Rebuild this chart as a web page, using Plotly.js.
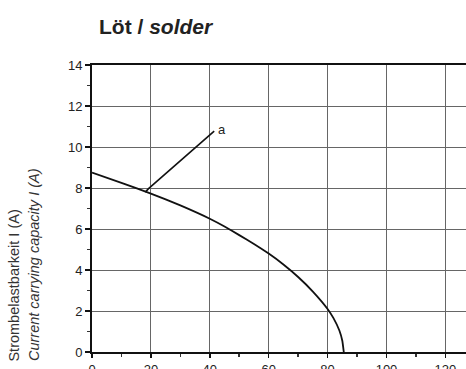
<!DOCTYPE html>
<html>
<head>
<meta charset="utf-8">
<script src="https://cdn.plot.ly/plotly-3.0.1.min.js"></script>
<style>
html,body{margin:0;padding:0;background:#fff;overflow:hidden;}
#chart{width:466px;height:369px;}
</style>
</head>
<body>
<div id="chart"></div>
<script>
// Curve: current carrying capacity vs temperature (solder)
const curveX = [0, 10, 20, 30, 40, 45, 50, 55, 60, 65, 70, 75, 80, 82, 84, 85, 85.5];
const curveY = [8.75, 8.25, 7.73, 7.15, 6.5, 6.12, 5.7, 5.27, 4.8, 4.27, 3.66, 2.95, 2.1, 1.65, 1.05, 0.55, 0];
// Leader line for label "a"
const leaderX = [18.1, 19.2, 41.5];
const leaderY = [7.8, 7.97, 10.77];
const labelA = {text: "a", x: 44.1, y: 10.86};
const xTicks = [0, 20, 40, 60, 80, 100, 120];
const yTicks = [0, 2, 4, 6, 8, 10, 12, 14];
const titleText = "<b>Löt / <i>solder</i></b>";
const yTitle1 = "Strombelastbarkeit I (A)";
const yTitle2 = "<i>Current carrying capacity I (A)</i>";

const FONT = "'Liberation Sans', Arial, sans-serif";

const traces = [
  {x: curveX, y: curveY, type: 'scatter', mode: 'lines', line: {color: '#111', width: 1.8, shape: 'spline', smoothing: 0.4}, hoverinfo: 'skip'},
  {x: leaderX, y: leaderY, type: 'scatter', mode: 'lines', line: {color: '#111', width: 1.6}, hoverinfo: 'skip'}
];

const layout = {
  width: 466, height: 369,
  margin: {l: 92, r: 0, t: 65, b: 17},
  paper_bgcolor: '#fff', plot_bgcolor: '#fff',
  showlegend: false,
  font: {family: FONT, size: 13, color: '#222'},
  xaxis: {
    range: [0, 127], tickvals: xTicks, ticktext: xTicks.map(String),
    showgrid: true, gridcolor: '#666', gridwidth: 1,
    zeroline: false, showline: true, linecolor: '#111', linewidth: 2, mirror: true,
    ticks: 'outside', ticklen: 4, tickwidth: 1.5, tickcolor: '#111',
    minor: {dtick: 10, tick0: 0, ticks: 'outside', ticklen: 3, tickcolor: '#333', showgrid: false},
    tickfont: {family: FONT, size: 13, color: '#222'},
    automargin: false, fixedrange: true
  },
  yaxis: {
    range: [0, 14], tickvals: yTicks, ticktext: yTicks.map(String),
    showgrid: true, gridcolor: '#666', gridwidth: 1,
    zeroline: false, showline: true, linecolor: '#111', linewidth: 2, mirror: false,
    ticks: 'outside', ticklen: 5, tickwidth: 1.5, tickcolor: '#111',
    minor: {dtick: 1, tick0: 0, ticks: 'outside', ticklen: 3, tickcolor: '#333', showgrid: false},
    tickfont: {family: FONT, size: 13, color: '#222'},
    automargin: false, fixedrange: true
  },
  annotations: [
    {text: titleText, xref: 'paper', yref: 'paper', x: 0.014, y: 1.135, xanchor: 'left', yanchor: 'middle',
     showarrow: false, font: {family: FONT, size: 21, color: '#222'}},
    {text: yTitle1, xref: 'paper', yref: 'paper', x: -0.2076, y: -0.039, xanchor: 'center', yanchor: 'bottom',
     textangle: -90, showarrow: false, font: {family: FONT, size: 14.5, color: '#333'}},
    {text: yTitle2, xref: 'paper', yref: 'paper', x: -0.1568, y: -0.039, xanchor: 'center', yanchor: 'bottom',
     textangle: -90, showarrow: false, font: {family: FONT, size: 14.5, color: '#333'}},
    {text: labelA.text, xref: 'x', yref: 'y', x: labelA.x, y: labelA.y, xanchor: 'center', yanchor: 'middle',
     showarrow: false, font: {family: FONT, size: 13, color: '#222'}}
  ]
};

Plotly.newPlot('chart', traces, layout, {displayModeBar: false, staticPlot: true});
</script>
</body>
</html>
